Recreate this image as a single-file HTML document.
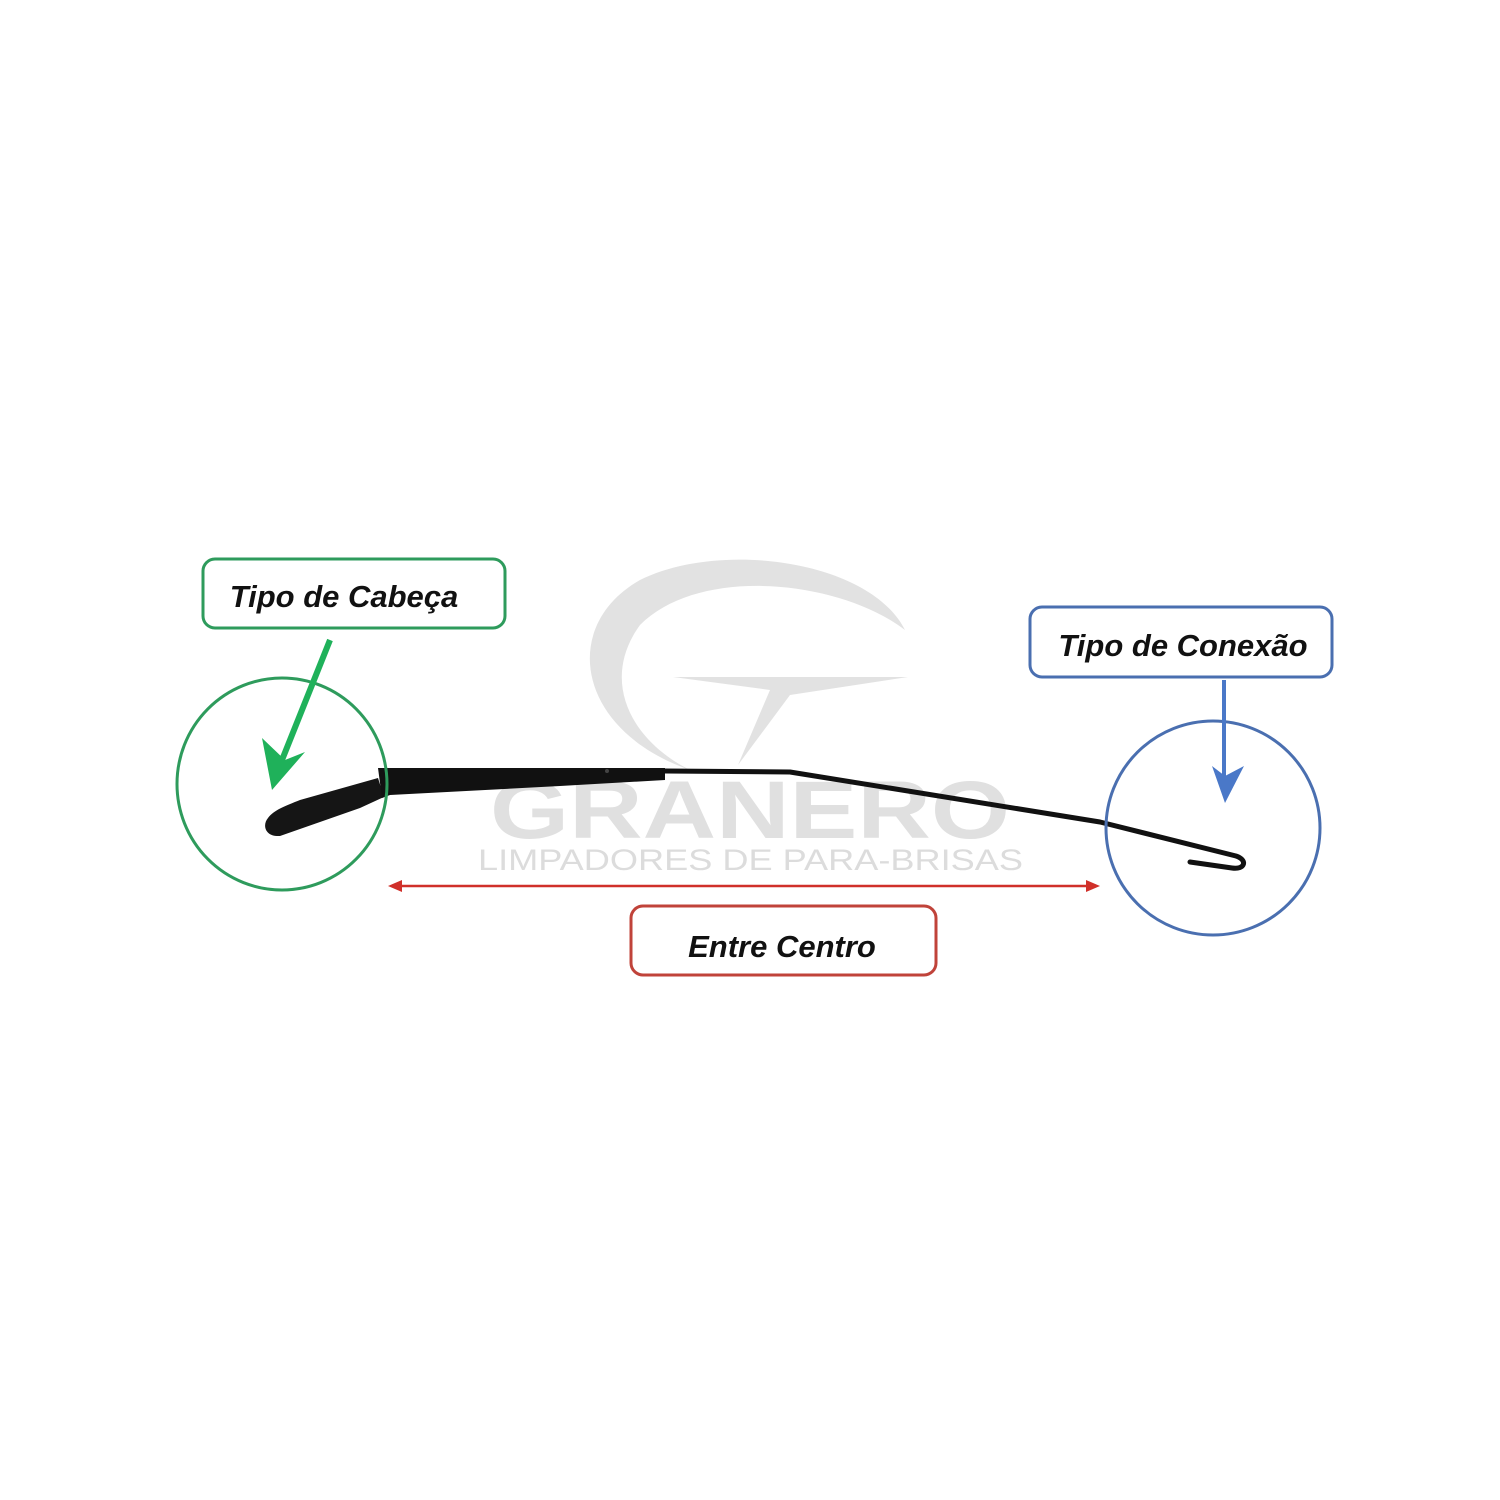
<!DOCTYPE html>
<html><head><meta charset="utf-8"><style>
html,body{margin:0;padding:0;background:#fff;}
svg{display:block;}
</style></head><body>
<svg width="1500" height="1500" viewBox="0 0 1500 1500" xmlns="http://www.w3.org/2000/svg">
<rect width="1500" height="1500" fill="#fff"/>
<!-- watermark -->
<path d="M905,630 C870,560 720,540 640,580 C560,625 575,730 690,770 C630,740 600,680 640,625 C700,565 840,580 905,630 Z" fill="#e2e2e2"/>
<path d="M673,677 L908,677 L790,695 L738,765 L770,690 Z" fill="#e2e2e2"/>
<text x="490" y="838" font-family="Liberation Sans, sans-serif" font-weight="bold" font-size="82" fill="#e0e0e0" textLength="520" lengthAdjust="spacingAndGlyphs">GRANERO</text>
<text x="478" y="870" font-family="Liberation Sans, sans-serif" font-size="30" fill="#dcdcdc" textLength="545" lengthAdjust="spacingAndGlyphs">LIMPADORES DE PARA-BRISAS</text>
<!-- wiper -->
<path d="M268,818 C262,825 265,837 280,836 L360,808 L384,797 L378,778 L300,800 C285,806 274,810 268,818 Z" fill="#151515"/>
<path d="M378,768 L665,768 L665,780 L560,786 L390,795 L382,798 Z" fill="#111"/>
<circle cx="607" cy="771" r="2" fill="#444"/>
<path d="M665,771 L790,772 L1100,822 L1236,856 C1248,860 1245,870 1232,868 L1190,862" fill="none" stroke="#111" stroke-width="5" stroke-linejoin="round" stroke-linecap="round"/>
<!-- green -->
<rect x="203" y="559" width="302" height="69" rx="12" fill="#fff" stroke="#2e9b5c" stroke-width="3"/>
<text x="344" y="607" text-anchor="middle" font-family="Liberation Sans, sans-serif" font-weight="bold" font-style="italic" font-size="31" fill="#111">Tipo de Cabeça</text>
<ellipse cx="282" cy="784" rx="105" ry="106" fill="none" stroke="#2e9b5c" stroke-width="3"/>
<line x1="330" y1="640" x2="282" y2="760" stroke="#1fb15a" stroke-width="6"/>
<path d="M262,738 L272,790 L305,752 L285,760 Z" fill="#1fb15a"/>
<!-- blue -->
<rect x="1030" y="607" width="302" height="70" rx="12" fill="#fff" stroke="#4a6fb0" stroke-width="3"/>
<text x="1183" y="656" text-anchor="middle" font-family="Liberation Sans, sans-serif" font-weight="bold" font-style="italic" font-size="31" fill="#111">Tipo de Conexão</text>
<ellipse cx="1213" cy="828" rx="107" ry="107" fill="none" stroke="#4a6fb0" stroke-width="3"/>
<line x1="1224" y1="680" x2="1224" y2="780" stroke="#4a78c8" stroke-width="4"/>
<path d="M1212,766 L1225,803 L1244,766 L1225,776 Z" fill="#4a78c8"/>
<!-- red -->
<line x1="398" y1="886" x2="1092" y2="886" stroke="#d0302a" stroke-width="2.5"/>
<path d="M388,886 L402,880 L402,892 Z" fill="#d0302a"/>
<path d="M1100,886 L1086,880 L1086,892 Z" fill="#d0302a"/>
<rect x="631" y="906" width="305" height="69" rx="12" fill="#fff" stroke="#c0433a" stroke-width="3"/>
<text x="782" y="957" text-anchor="middle" font-family="Liberation Sans, sans-serif" font-weight="bold" font-style="italic" font-size="31" fill="#111">Entre Centro</text>
</svg>
</body></html>
